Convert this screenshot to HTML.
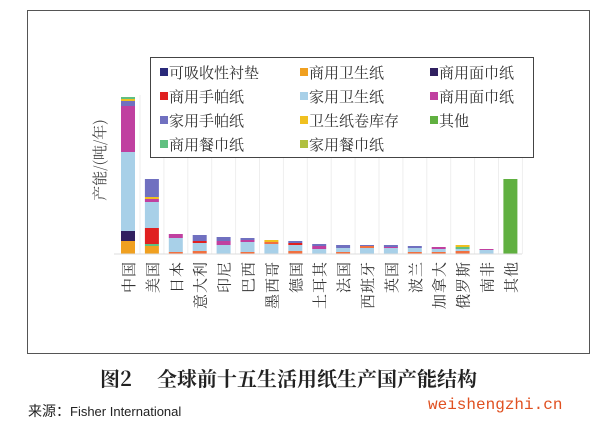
<!DOCTYPE html><html><head><meta charset="utf-8"><style>
body{margin:0;width:602px;height:429px;background:#fff;position:relative;overflow:hidden;font-family:"Liberation Sans","Noto Sans CJK SC",sans-serif}
.a{position:absolute}
.s{font-size:10px;vertical-align:2px}
</style></head><body>
<div class="a" style="left:27px;top:10px;width:561px;height:342px;border:1px solid #555"></div>
<svg class="a" style="left:0;top:0" width="602" height="429">
<g id="g"></g>
<line x1="114" y1="254" x2="522" y2="254" stroke="#ddd"/>
<text transform="translate(105,160) rotate(-90)" text-anchor="middle" font-size="15" fill="#444" font-family="Noto Serif CJK SC,serif">产能/(吨/年)</text>
<g id="l" font-size="15" fill="#333" font-family="Noto Serif CJK SC,serif"></g>
</svg>
<div class="a" style="left:150px;top:57px;width:382px;height:99px;border:1px solid #444;background:#fff;font-size:15px;color:#333;font-family:'Noto Serif CJK SC',serif;line-height:24px">
<div class="a" style="left:8px;top:2px"><span class="s" style="color:#2a2a7a">■</span>可吸收性衬垫</div>
<div class="a" style="left:148px;top:2px"><span class="s" style="color:#f0a020">■</span>商用卫生纸</div>
<div class="a" style="left:278px;top:2px"><span class="s" style="color:#302060">■</span>商用面巾纸</div>
<div class="a" style="left:8px;top:26px"><span class="s" style="color:#e02020">■</span>商用手帕纸</div>
<div class="a" style="left:148px;top:26px"><span class="s" style="color:#a8d0e8">■</span>家用卫生纸</div>
<div class="a" style="left:278px;top:26px"><span class="s" style="color:#c040a0">■</span>商用面巾纸</div>
<div class="a" style="left:8px;top:50px"><span class="s" style="color:#7070c0">■</span>家用手帕纸</div>
<div class="a" style="left:148px;top:50px"><span class="s" style="color:#f0c020">■</span>卫生纸卷库存</div>
<div class="a" style="left:278px;top:50px"><span class="s" style="color:#60b040">■</span>其他</div>
<div class="a" style="left:8px;top:74px"><span class="s" style="color:#60c080">■</span>商用餐巾纸</div>
<div class="a" style="left:148px;top:74px"><span class="s" style="color:#b0c040">■</span>家用餐巾纸</div>
</div>
<div class="a" style="left:100px;top:363px;font-size:20px;font-weight:bold;color:#222;font-family:'Noto Serif CJK SC',serif;white-space:nowrap">图2</div>
<div class="a" style="left:157px;top:363px;font-size:20px;font-weight:bold;color:#222;font-family:'Noto Serif CJK SC',serif;white-space:nowrap;letter-spacing:0px">全球前十五生活用纸生产国产能结构</div>
<div class="a" style="left:28px;top:401px;font-size:14px;color:#222;font-family:'Noto Sans CJK SC',sans-serif;white-space:nowrap">来源：<span style="font-family:'Liberation Sans Narrow','Liberation Sans';font-size:13px">Fisher International</span></div>
<div class="a" style="left:428px;top:396px;font-size:16px;color:#e05020;font-family:'Liberation Mono',monospace">weishengzhi.cn</div>
<script>
var names=["中国","美国","日本","意大利","印尼","巴西","墨西哥","德国","土耳其","法国","西班牙","英国","波兰","加拿大","俄罗斯","南非","其他"];
var C={o:"#f0a020",n:"#302060",r:"#e02020",b:"#a8d0e8",m:"#c040a0",p:"#7070c0",y:"#f0c020",g:"#60b040",gg:"#60c080",e:"#f07040"};
var bars=[[["o",13],["n",10],["b",79],["m",46],["p",5],["y",2],["gg",2]],[["o",8],["gg",2],["r",16],["b",26],["m",3],["y",2],["p",18]],[["e",2],["b",14],["m",4]],[["e",3],["b",8],["r",2],["p",6]],[["b",9],["m",4],["p",4]],[["e",2],["b",10],["m",2],["p",2]],[["b",10],["e",2],["y",2]],[["e",3],["b",6],["r",2],["p",2]],[["b",5],["m",3],["p",2]],[["e",2],["b",4],["p",3]],[["b",6],["e",2],["p",1]],[["b",6],["m",1],["p",2]],[["e",2],["b",4],["p",2]],[["e",2],["b",3],["m",2]],[["e",3],["b",2],["gg",2],["y",2]],[["b",4],["m",1]],[["g",75]]];
var s="",lab="";
for(var i=0;i<17;i++){var x=128+i*23.9,y=254;
 s+='<line x1="'+(x+12)+'" y1="95" x2="'+(x+12)+'" y2="254" stroke="#eee"/>';
 bars[i].forEach(function(d){y-=d[1];s+='<rect x="'+(x-7)+'" y="'+y+'" width="14" height="'+d[1]+'" fill="'+C[d[0]]+'"/>';});
 lab+='<text transform="translate('+(x+6)+',261) rotate(-90)" text-anchor="end" letter-spacing="1">'+names[i]+'</text>';}
document.getElementById("g").innerHTML=s;
document.getElementById("l").innerHTML=lab;
</script>
</body></html>
